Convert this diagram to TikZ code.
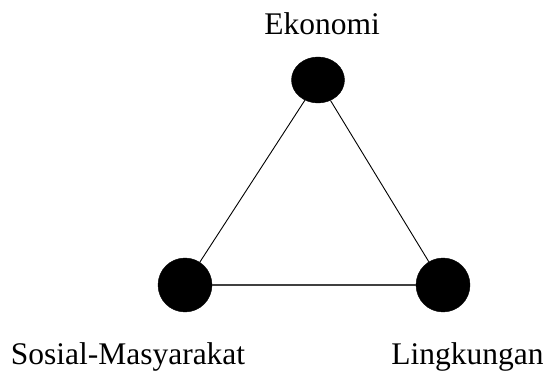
\documentclass[tikz,border=0pt]{standalone}
\usepackage{fontspec}
\setmainfont{Liberation Serif}
\usetikzlibrary{shapes.geometric}
\begin{document}
\begin{tikzpicture}[x=1pt,y=1pt,
  pillar/.style={ellipse,fill=black,draw=black,inner sep=0pt},
  caption/.style={anchor=base,font=\fontsize{31.5}{37}\selectfont},
  link/.style={black,line width=0.9pt}]
\useasboundingbox (0,0) rectangle (548,372);
\node[pillar,minimum width=53pt,minimum height=46pt] (eko) at (318,292) {};
\node[pillar,minimum width=54pt,minimum height=54pt] (sos) at (185,87) {};
\node[pillar,minimum width=54pt,minimum height=54pt] (lin) at (443,87) {};
\draw[link] (eko) -- (sos);
\draw[link] (eko) -- (lin);
\draw[black!75,line width=1.4pt] (sos) -- (lin);
\node[caption] (teko) at (322,337) {Ekonomi};
\node[caption] (tsos) at (128,7.5) {Sosial-Masyarakat};
\node[caption] (tlin) at (467.5,7.5) {Lingkungan};
\end{tikzpicture}
\end{document}
